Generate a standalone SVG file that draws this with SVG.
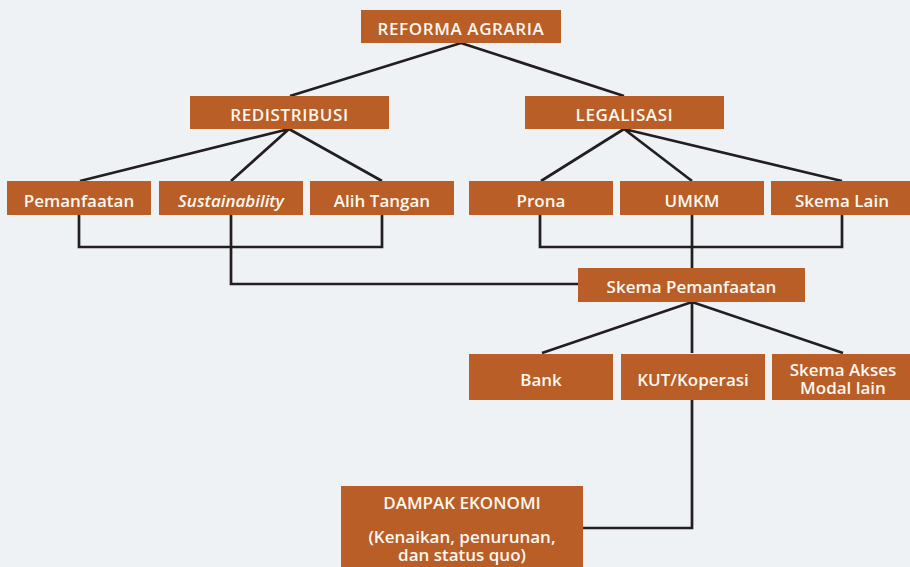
<svg xmlns="http://www.w3.org/2000/svg" width="910" height="567" viewBox="0 0 910 567">
<style>
.box{fill:#B85E26}
.t{font-family:"Open Sans","Liberation Sans",sans-serif;font-size:17px;font-weight:600;fill:#FDF7F0;text-anchor:middle}
.h{font-size:17px;letter-spacing:0.6px}
.c{fill:none;stroke:#231F20;stroke-width:2.7;stroke-linejoin:miter}
</style>
<rect width="910" height="567" fill="#EEF2F5"/>
<g id="connectors">
<path class="c" d="M461 43 L290 96 M461 43 L624 96"/>
<path class="c" d="M289 129 L80 181 M289 129 L231 181 M289 129 L382 181"/>
<path class="c" d="M624 129 L541 181 M624 129 L692 181 M624 129 L842 181"/>
<path class="c" d="M79 214 V247 H382 V214"/>
<path class="c" d="M540 214 V247 H842 V214 M692 214 V268"/>
<path class="c" d="M231 214 V284 H578"/>
<path class="c" d="M692 302 L542 353 M692 302 V353 M692 302 L843 353"/>
<path class="c" d="M692 399 V528 H583"/>
</g>
<g id="reforma-agraria"><rect class="box" x="361" y="10" width="200" height="33"/><text class="t h" x="461" y="34.5">REFORMA AGRARIA</text></g>
<g id="redistribusi"><rect class="box" x="190" y="96" width="199" height="33"/><text class="t h" x="289.5" y="120.5">REDISTRIBUSI</text></g>
<g id="legalisasi"><rect class="box" x="525" y="96" width="199" height="33"/><text class="t h" x="624.5" y="120.5">LEGALISASI</text></g>
<g id="pemanfaatan"><rect class="box" x="7" y="181" width="144" height="34"/><text class="t" x="79" y="206.5">Pemanfaatan</text></g>
<g id="sustainability"><rect class="box" x="159" y="181" width="144" height="34"/><text class="t" x="231" y="206.5" font-style="italic">Sustainability</text></g>
<g id="alih-tangan"><rect class="box" x="310" y="181" width="144" height="34"/><text class="t" x="382" y="206.5">Alih Tangan</text></g>
<g id="prona"><rect class="box" x="469" y="181" width="144" height="34"/><text class="t" x="541" y="206.5">Prona</text></g>
<g id="umkm"><rect class="box" x="620" y="181" width="144" height="34"/><text class="t" x="692" y="206.5">UMKM</text></g>
<g id="skema-lain"><rect class="box" x="771" y="181" width="139" height="34"/><text class="t" x="842" y="206.5">Skema Lain</text></g>
<g id="skema-pemanfaatan"><rect class="box" x="578" y="268" width="227" height="34"/><text class="t" x="691.5" y="293">Skema Pemanfaatan</text></g>
<g id="bank"><rect class="box" x="469" y="354" width="144" height="46"/><text class="t" x="541" y="386">Bank</text></g>
<g id="kut-koperasi"><rect class="box" x="621" y="354" width="144" height="46"/><text class="t" x="693" y="386">KUT/Koperasi</text></g>
<g id="skema-akses"><rect class="box" x="772" y="354" width="138" height="46"/><text class="t" x="843" y="376">Skema Akses</text><text class="t" x="843" y="394">Modal lain</text></g>
<g id="dampak-ekonomi"><rect class="box" x="341" y="486" width="242" height="81"/><text class="t" x="462" y="509">DAMPAK EKONOMI</text><text class="t" x="462" y="542.5">(Kenaikan, penurunan,</text><text class="t" x="462" y="560.5">dan status quo)</text></g>
</svg>
